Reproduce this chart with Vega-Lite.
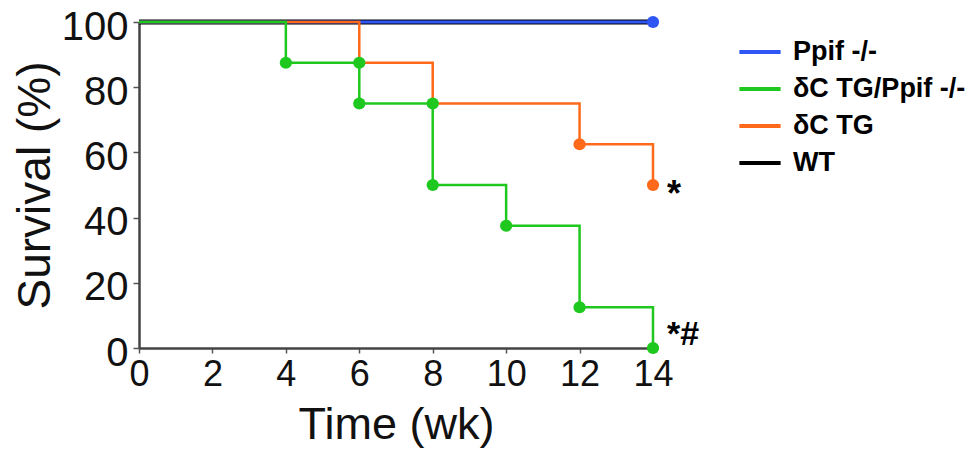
{
  "$schema": "https://vega.github.io/schema/vega-lite/v6.json",
  "width": 514,
  "height": 326,
  "autosize": "none",
  "padding": {"left": 139, "top": 22, "right": 320, "bottom": 108},
  "background": "white",
  "config": {
    "view": {"stroke": null},
    "font": "Liberation Sans"
  },
  "datasets": {
    "curves": [
      {"group": "WT", "week": 0, "survival": 100},
      {"group": "WT", "week": 14, "survival": 100},
      {"group": "Ppif -/-", "week": 0, "survival": 100},
      {"group": "Ppif -/-", "week": 14, "survival": 100},
      {"group": "δC TG", "week": 0, "survival": 100},
      {"group": "δC TG", "week": 6, "survival": 87.5},
      {"group": "δC TG", "week": 8, "survival": 75},
      {"group": "δC TG", "week": 12, "survival": 62.5},
      {"group": "δC TG", "week": 14, "survival": 50},
      {"group": "δC TG/Ppif -/-", "week": 0, "survival": 100},
      {"group": "δC TG/Ppif -/-", "week": 4, "survival": 87.5},
      {"group": "δC TG/Ppif -/-", "week": 6, "survival": 75},
      {"group": "δC TG/Ppif -/-", "week": 8, "survival": 50},
      {"group": "δC TG/Ppif -/-", "week": 10, "survival": 37.5},
      {"group": "δC TG/Ppif -/-", "week": 12, "survival": 12.5},
      {"group": "δC TG/Ppif -/-", "week": 14, "survival": 0}
    ],
    "events": [
      {"group": "Ppif -/-", "week": 14, "survival": 100},
      {"group": "δC TG", "week": 12, "survival": 62.5},
      {"group": "δC TG", "week": 14, "survival": 50},
      {"group": "δC TG/Ppif -/-", "week": 4, "survival": 87.5},
      {"group": "δC TG/Ppif -/-", "week": 6, "survival": 87.5},
      {"group": "δC TG/Ppif -/-", "week": 6, "survival": 75},
      {"group": "δC TG/Ppif -/-", "week": 8, "survival": 75},
      {"group": "δC TG/Ppif -/-", "week": 8, "survival": 50},
      {"group": "δC TG/Ppif -/-", "week": 10, "survival": 37.5},
      {"group": "δC TG/Ppif -/-", "week": 12, "survival": 12.5},
      {"group": "δC TG/Ppif -/-", "week": 14, "survival": 0}
    ],
    "notes": [
      {"group": "δC TG", "week": 14, "survival": 50, "label": "*"},
      {"group": "δC TG/Ppif -/-", "week": 14, "survival": 0, "label": "*#"}
    ]
  },
  "encoding": {
    "x": {
      "field": "week", "type": "quantitative",
      "scale": {"domain": [0, 14], "nice": false, "zero": false},
      "axis": {
        "title": "Time (wk)", "values": [0, 2, 4, 6, 8, 10, 12, 14],
        "grid": false, "domainColor": "#444", "domainWidth": 2.5,
        "tickColor": "#555", "tickSize": 5, "tickWidth": 1.5,
        "labelFontSize": 36, "labelColor": "#111", "labelPadding": 4,
        "labelFlush": false, "labelOverlap": false,
        "titleFontSize": 45, "titleFontWeight": "normal", "titleColor": "#111",
        "titlePadding": 10
      }
    },
    "y": {
      "field": "survival", "type": "quantitative",
      "scale": {"domain": [0, 100], "nice": false},
      "axis": {
        "title": "Survival (%)", "values": [0, 20, 40, 60, 80, 100],
        "grid": false, "domainColor": "#444", "domainWidth": 2.5,
        "tickColor": "#555", "tickSize": 6, "tickWidth": 1.5,
        "labelFontSize": 40, "labelColor": "#111", "labelPadding": 5,
        "labelOffset": 5, "labelFlush": false, "labelOverlap": false,
        "titleFontSize": 46, "titleFontWeight": "normal", "titleColor": "#111",
        "titlePadding": 2
      }
    },
    "color": {
      "field": "group", "type": "nominal",
      "scale": {
        "domain": ["Ppif -/-", "δC TG/Ppif -/-", "δC TG", "WT"],
        "range": ["#2f55f5", "#1fc81f", "#ff6a1a", "#000000"]
      },
      "legend": {
        "title": null, "orient": "none", "legendX": 598, "legendY": 7,
        "symbolType": "stroke", "symbolSize": 1700, "symbolStrokeWidth": 4,
        "labelFontSize": 27, "labelFontWeight": "bold", "labelColor": "#000",
        "labelFont": "Liberation Sans", "rowPadding": 1, "labelOffset": 10,
        "labelLimit": 300
      }
    }
  },
  "layer": [
    {
      "data": {"name": "curves"},
      "transform": [{"filter": "datum.group == 'WT'"}],
      "mark": {"type": "line", "interpolate": "step-after", "strokeWidth": 5}
    },
    {
      "data": {"name": "curves"},
      "transform": [{"filter": "datum.group == 'Ppif -/-'"}],
      "mark": {"type": "line", "interpolate": "step-after", "strokeWidth": 3}
    },
    {
      "data": {"name": "curves"},
      "transform": [{"filter": "datum.group == 'δC TG'"}],
      "mark": {"type": "line", "interpolate": "step-after", "strokeWidth": 2.5}
    },
    {
      "data": {"name": "curves"},
      "transform": [{"filter": "datum.group == 'δC TG/Ppif -/-'"}],
      "mark": {"type": "line", "interpolate": "step-after", "strokeWidth": 2.5}
    },
    {
      "data": {"name": "events"},
      "mark": {"type": "circle", "size": 150, "opacity": 1}
    },
    {
      "data": {"name": "notes"},
      "transform": [{"filter": "datum.group == 'δC TG'"}],
      "mark": {"type": "text", "align": "left", "baseline": "middle", "dx": 14, "dy": 10, "fontSize": 36, "fontWeight": "bold"},
      "encoding": {"text": {"field": "label"}, "color": {"value": "#000"}}
    },
    {
      "data": {"name": "notes"},
      "transform": [{"filter": "datum.group == 'δC TG/Ppif -/-'"}],
      "mark": {"type": "text", "align": "left", "baseline": "middle", "dx": 14, "dy": -13, "fontSize": 34, "fontWeight": "bold"},
      "encoding": {"text": {"field": "label"}, "color": {"value": "#000"}}
    }
  ]
}
